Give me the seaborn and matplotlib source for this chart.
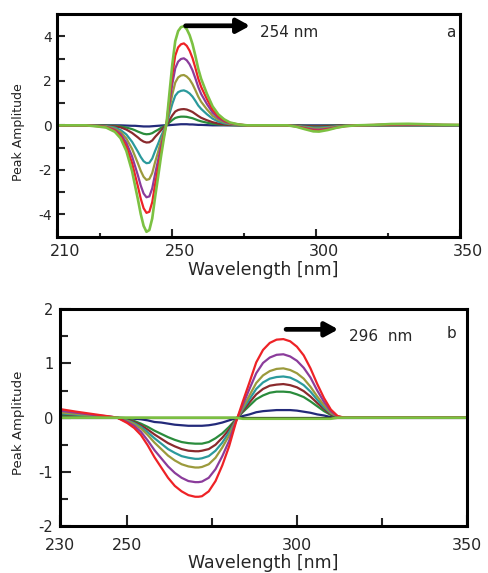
import matplotlib
matplotlib.use("Agg")
import matplotlib.pyplot as plt
import matplotlib.transforms as mtrans
import seaborn as sns
import pandas as pd

# ---------------- data: panel a ----------------
wl_a = [210, 220, 224, 227, 230, 232, 234, 236, 237, 238, 239, 240, 241, 242, 243, 244, 245, 246, 247, 248,
        249, 250, 251, 252, 253, 254, 255, 256, 257, 258, 259, 260, 262, 264, 266, 268, 270, 273, 276, 285,
        290, 293, 296, 299, 301, 304, 307, 310, 314, 320, 326, 332, 338, 344, 350]

navy_a = [0.0, 0.0, 0.0, 0.0, 0.0, 0.0, -0.01, -0.02, -0.02, -0.03, -0.04, -0.05, -0.05, -0.05, -0.04, -0.03, -0.02, -0.01, 0.0, 0.0,
          0.01, 0.02, 0.03, 0.04, 0.05, 0.05, 0.05, 0.04, 0.04, 0.03, 0.02, 0.02, 0.01, 0.0, 0.0, 0.0, 0.0, 0.0, 0.0, 0.0,
          0.0, 0.0, 0.0, 0.0, 0.0, 0.0, 0.0, 0.0, 0.0, 0.0, 0.0, 0.0, 0.0, 0.0, 0.0]
green_a = [0.0, 0.0, 0.0, -0.01, -0.02, -0.05, -0.10, -0.17, -0.22, -0.28, -0.33, -0.38, -0.40, -0.39, -0.35, -0.27, -0.20, -0.12, -0.05, 0.01,
           0.13, 0.24, 0.33, 0.37, 0.39, 0.39, 0.38, 0.35, 0.32, 0.27, 0.22, 0.18, 0.12, 0.07, 0.04, 0.02, 0.01, 0.0, 0.0, 0.0,
           0.0, -0.01, -0.02, -0.03, -0.03, -0.02, -0.01, 0.0, 0.0, 0.0, 0.0, 0.0, 0.0, 0.0, 0.0]
darkred_a = [0.0, 0.0, -0.01, -0.02, -0.05, -0.09, -0.19, -0.34, -0.44, -0.54, -0.65, -0.73, -0.77, -0.76, -0.68, -0.52, -0.38, -0.23, -0.10, 0.02,
             0.24, 0.45, 0.62, 0.69, 0.72, 0.73, 0.71, 0.66, 0.60, 0.51, 0.42, 0.34, 0.23, 0.14, 0.08, 0.04, 0.02, 0.01, 0.0, 0.0,
             0.0, -0.01, -0.03, -0.05, -0.05, -0.04, -0.02, -0.01, 0.0, 0.0, 0.01, 0.01, 0.01, 0.0, 0.0]
teal_a = [0.0, 0.0, -0.02, -0.03, -0.10, -0.21, -0.41, -0.74, -0.96, -1.18, -1.42, -1.61, -1.70, -1.68, -1.49, -1.15, -0.84, -0.51, -0.22, 0.05,
          0.52, 0.97, 1.33, 1.49, 1.55, 1.57, 1.52, 1.43, 1.29, 1.10, 0.89, 0.74, 0.50, 0.30, 0.17, 0.09, 0.05, 0.02, 0.0, 0.0,
          0.0, -0.02, -0.06, -0.10, -0.10, -0.08, -0.04, -0.02, 0.0, 0.01, 0.02, 0.02, 0.01, 0.01, 0.0]
olive_a = [0.0, 0.0, -0.02, -0.05, -0.15, -0.30, -0.59, -1.06, -1.38, -1.70, -2.04, -2.31, -2.45, -2.41, -2.14, -1.65, -1.21, -0.74, -0.32, 0.07,
           0.75, 1.40, 1.92, 2.15, 2.24, 2.26, 2.19, 2.06, 1.85, 1.58, 1.29, 1.06, 0.72, 0.43, 0.25, 0.14, 0.07, 0.02, 0.0, 0.0,
           0.0, -0.03, -0.09, -0.14, -0.15, -0.11, -0.06, -0.02, 0.0, 0.01, 0.02, 0.03, 0.02, 0.01, 0.01]
purple_a = [0.0, 0.0, -0.03, -0.07, -0.20, -0.39, -0.78, -1.40, -1.82, -2.24, -2.70, -3.06, -3.23, -3.19, -2.83, -2.18, -1.59, -0.98, -0.42, 0.09,
            0.99, 1.87, 2.56, 2.86, 2.98, 3.01, 2.92, 2.74, 2.47, 2.11, 1.72, 1.41, 0.96, 0.57, 0.33, 0.18, 0.09, 0.03, 0.0, 0.0,
            0.0, -0.04, -0.12, -0.19, -0.20, -0.15, -0.08, -0.03, 0.0, 0.01, 0.03, 0.04, 0.03, 0.02, 0.01]
red_a = [0.0, 0.0, -0.04, -0.08, -0.24, -0.48, -0.95, -1.70, -2.22, -2.73, -3.29, -3.72, -3.93, -3.88, -3.45, -2.65, -1.94, -1.19, -0.51, 0.11,
         1.21, 2.28, 3.13, 3.50, 3.64, 3.68, 3.57, 3.35, 3.02, 2.58, 2.10, 1.73, 1.18, 0.70, 0.40, 0.22, 0.11, 0.04, 0.0, 0.0,
         0.0, -0.05, -0.14, -0.23, -0.24, -0.18, -0.10, -0.04, 0.0, 0.02, 0.04, 0.05, 0.04, 0.02, 0.02]
lime_a = [0.0, 0.0, -0.05, -0.10, -0.29, -0.58, -1.15, -2.06, -2.69, -3.31, -3.98, -4.51, -4.78, -4.70, -4.18, -3.22, -2.35, -1.44, -0.62, 0.13,
          1.47, 2.76, 3.78, 4.23, 4.41, 4.45, 4.32, 4.05, 3.65, 3.12, 2.54, 2.09, 1.42, 0.85, 0.49, 0.27, 0.13, 0.04, 0.0, 0.0,
          0.0, -0.06, -0.17, -0.27, -0.28, -0.21, -0.11, -0.04, 0.0, 0.02, 0.06, 0.07, 0.05, 0.03, 0.02]

# ---------------- data: panel b ----------------
wl_b = [230, 235, 240, 245, 247, 250, 252, 254, 256, 258, 260, 262, 264, 266, 268, 270, 271, 272, 274, 276,
        278, 280, 282, 284, 286, 288, 290, 292, 294, 296, 298, 300, 302, 304, 306, 308, 310, 312, 314, 318,
        325, 335, 350]

navy_b = [0.02, 0.015, 0.01, 0.0, 0.0, -0.01, -0.02, -0.03, -0.05, -0.08, -0.09, -0.11, -0.13, -0.14, -0.15, -0.15, -0.15, -0.15, -0.14, -0.12,
          -0.09, -0.05, -0.01, 0.03, 0.06, 0.10, 0.12, 0.13, 0.14, 0.14, 0.14, 0.13, 0.11, 0.09, 0.06, 0.04, 0.01, 0.0, 0.0, 0.0,
          0.0, 0.0, 0.0]
green_b = [0.05, 0.035, 0.02, 0.005, 0.0, -0.03, -0.06, -0.11, -0.17, -0.24, -0.30, -0.36, -0.41, -0.45, -0.47, -0.48, -0.48, -0.48, -0.45, -0.38,
           -0.29, -0.17, -0.03, 0.10, 0.22, 0.34, 0.41, 0.46, 0.48, 0.48, 0.47, 0.43, 0.38, 0.30, 0.21, 0.12, 0.05, 0.01, 0.0, 0.0,
           0.0, 0.0, 0.0]
darkred_b = [0.07, 0.045, 0.025, 0.01, 0.0, -0.04, -0.08, -0.14, -0.22, -0.31, -0.39, -0.47, -0.53, -0.58, -0.61, -0.62, -0.62, -0.61, -0.58, -0.50,
             -0.37, -0.22, -0.04, 0.12, 0.28, 0.43, 0.53, 0.59, 0.61, 0.62, 0.60, 0.56, 0.49, 0.39, 0.27, 0.16, 0.06, 0.01, 0.0, 0.0,
             0.0, 0.0, 0.0]
teal_b = [0.08, 0.055, 0.03, 0.01, 0.0, -0.05, -0.10, -0.17, -0.27, -0.38, -0.48, -0.58, -0.65, -0.71, -0.74, -0.76, -0.76, -0.75, -0.71, -0.61,
          -0.46, -0.27, -0.05, 0.15, 0.34, 0.53, 0.65, 0.72, 0.75, 0.76, 0.74, 0.68, 0.60, 0.48, 0.33, 0.19, 0.08, 0.02, 0.0, 0.0,
          0.0, 0.0, 0.0]
olive_b = [0.10, 0.07, 0.04, 0.01, 0.0, -0.06, -0.12, -0.20, -0.32, -0.46, -0.58, -0.70, -0.79, -0.86, -0.90, -0.92, -0.92, -0.91, -0.86, -0.74,
           -0.55, -0.33, -0.06, 0.18, 0.41, 0.64, 0.78, 0.86, 0.90, 0.91, 0.88, 0.82, 0.72, 0.57, 0.39, 0.23, 0.09, 0.02, 0.0, 0.0,
           0.0, 0.0, 0.0]
purple_b = [0.13, 0.09, 0.05, 0.02, 0.0, -0.08, -0.15, -0.26, -0.42, -0.60, -0.75, -0.90, -1.02, -1.11, -1.17, -1.19, -1.19, -1.18, -1.11, -0.95,
            -0.71, -0.43, -0.07, 0.23, 0.53, 0.82, 1.01, 1.11, 1.16, 1.17, 1.13, 1.05, 0.92, 0.74, 0.50, 0.29, 0.12, 0.02, 0.0, 0.0,
            0.0, 0.0, 0.0]
red_b = [0.16, 0.11, 0.065, 0.02, 0.0, -0.10, -0.19, -0.32, -0.51, -0.73, -0.92, -1.11, -1.26, -1.36, -1.43, -1.46, -1.46, -1.45, -1.36, -1.17,
         -0.88, -0.53, -0.09, 0.29, 0.65, 1.02, 1.25, 1.38, 1.44, 1.45, 1.41, 1.31, 1.15, 0.91, 0.62, 0.36, 0.15, 0.03, 0.0, 0.0,
         0.0, 0.0, 0.0]
black_b = [0.0, 0.0, 0.0, 0.0, 0.0, 0.0, 0.0, 0.0, 0.0, 0.0, 0.0, 0.0, 0.0, 0.0, 0.0, 0.0, 0.0, 0.0, 0.0, 0.0,
           0.0, 0.0, 0.0, 0.0, 0.0, 0.0, 0.0, 0.0, 0.0, 0.0, 0.0, 0.0, 0.0, 0.0, 0.0, 0.0, 0.0, 0.0, 0.0, 0.0,
           0.0, 0.0, 0.0]
lime_b = [0.0, 0.0, 0.0, 0.0, 0.0, 0.0, 0.0, 0.0, 0.0, 0.0, 0.0, 0.0, 0.0, 0.0, 0.0, 0.0, 0.0, 0.0, 0.0, 0.0,
          0.0, 0.0, 0.0, -0.02, -0.02, -0.02, -0.02, -0.02, -0.02, -0.02, -0.02, -0.02, -0.02, -0.02, -0.02, -0.02, -0.02, 0.0, 0.0, 0.0,
          0.0, 0.0, 0.0]

series_a = ["navy", "green", "darkred", "teal", "olive", "purple", "red", "lime"]
values_a = [navy_a, green_a, darkred_a, teal_a, olive_a, purple_a, red_a, lime_a]
series_b = ["navy", "green", "darkred", "teal", "olive", "purple", "red", "black", "lime"]
values_b = [navy_b, green_b, darkred_b, teal_b, olive_b, purple_b, red_b, black_b, lime_b]

colors = {"navy": "#232a7a", "green": "#2a8c3c", "darkred": "#8a2a2d", "teal": "#2b9a9c",
          "olive": "#9b9a3c", "purple": "#8b3c9b", "red": "#ee2226", "lime": "#7cc142",
          "black": "#111111"}

def long_df(wl, names, vals):
    frames = []
    for n, v in zip(names, vals):
        assert len(v) == len(wl), (n, len(v), len(wl))
        frames.append(pd.DataFrame({"wl": wl, "amp": v, "series": n}))
    return pd.concat(frames, ignore_index=True)

df_a = long_df(wl_a, series_a, values_a)
df_b = long_df(wl_b, series_b, values_b)

sns.set_style("ticks")
plt.rcParams["font.family"] = ["DejaVu Sans"]
plt.rcParams["axes.unicode_minus"] = False

fig = plt.figure(figsize=(4.89, 5.73), dpi=100)
ax1 = fig.add_axes([0.1172, 0.5869, 0.8235, 0.3887])
ax2 = fig.add_axes([0.1217, 0.0820, 0.8323, 0.3782])

for ax, df, names in [(ax1, df_a, series_a), (ax2, df_b, series_b)]:
    sns.lineplot(data=df, x="wl", y="amp", hue="series", hue_order=names,
                 palette=colors, sort=False, estimator=None, legend=False,
                 linewidth=1.6, ax=ax)
    ax.lines[-1].set_linewidth(1.9)
    for s in ax.spines.values():
        s.set_linewidth(2.2)
        s.set_color("black")
    ax.set_xlabel("Wavelength [nm]", fontsize=12.5)
    ax.set_ylabel("Peak Amplitude", fontsize=9, color="#222222")

# panel a axes
ax1.set_xlim(210, 350)
ax1.set_ylim(-5, 5)
ax1.set_xticks([210, 250, 300, 350])
ax1.set_xticks([225, 275, 325], minor=True)
ax1.set_yticks([-4, -2, 0, 2, 4])
ax1.set_yticks([-3, -1, 1, 3], minor=True)
ax1.tick_params(axis="x", which="major", direction="in", length=5.5, width=1.5, labelsize=11.5, pad=5)
ax1.tick_params(axis="x", which="minor", direction="in", length=3.2, width=1.5)
ax1.tick_params(axis="y", which="both", direction="in", length=5.5, width=1.5, labelsize=10, pad=4)
ax1.yaxis.set_label_coords(-0.080, 0.468)
ax1.xaxis.set_label_coords(0.511, -0.11)
off = mtrans.ScaledTranslation(0.08, 0, fig.dpi_scale_trans)
for lab in ax1.get_xticklabels():
    lab.set_transform(lab.get_transform() + off)

ax1.annotate("", xy=(277.0, 4.47), xytext=(254.6, 4.47),
             arrowprops=dict(arrowstyle="-|>,head_length=0.55,head_width=0.3",
                             lw=3.4, color="black", shrinkA=0, shrinkB=0,
                             mutation_scale=14))
ax1.text(280.3, 3.96, "254 nm", fontsize=11, va="baseline", ha="left")
ax1.text(345.3, 3.96, "a", fontsize=11, va="baseline", ha="left")

# panel b axes
ax2.set_xlim(230, 350)
ax2.set_ylim(-2, 2)
ax2.set_xticks([230, 250, 300, 350])
ax2.set_xticks([275, 325], minor=True)
ax2.set_yticks([-2, -1, 0, 1, 2])
ax2.set_yticks([-1.5, -0.5, 0.5, 1.5], minor=True)
ax2.tick_params(axis="x", which="major", direction="in", length=8, width=1.5, labelsize=11.5, pad=8.5)
ax2.tick_params(axis="x", which="minor", direction="in", length=5.5, width=1.5)
ax2.tick_params(axis="y", which="major", direction="in", length=8, width=1.5, labelsize=10.5, pad=4.5)
ax2.tick_params(axis="y", which="minor", direction="in", length=5.5, width=1.5)
ax2.yaxis.set_label_coords(-0.085, 0.474)
ax2.xaxis.set_label_coords(0.5, -0.128)
ax2.xaxis.label.set_fontsize(12.5)
ax2.yaxis.label.set_fontsize(9.5)

ax2.annotate("", xy=(312.2, 1.63), xytext=(296.8, 1.63),
             arrowprops=dict(arrowstyle="-|>,head_length=0.55,head_width=0.3",
                             lw=3.4, color="black", shrinkA=0, shrinkB=0,
                             mutation_scale=14))
ax2.text(315.5, 1.41, "296  nm", fontsize=11, va="baseline", ha="left")
ax2.text(344.2, 1.47, "b", fontsize=11, va="baseline", ha="left")

fig.savefig("out.png", dpi=100)
